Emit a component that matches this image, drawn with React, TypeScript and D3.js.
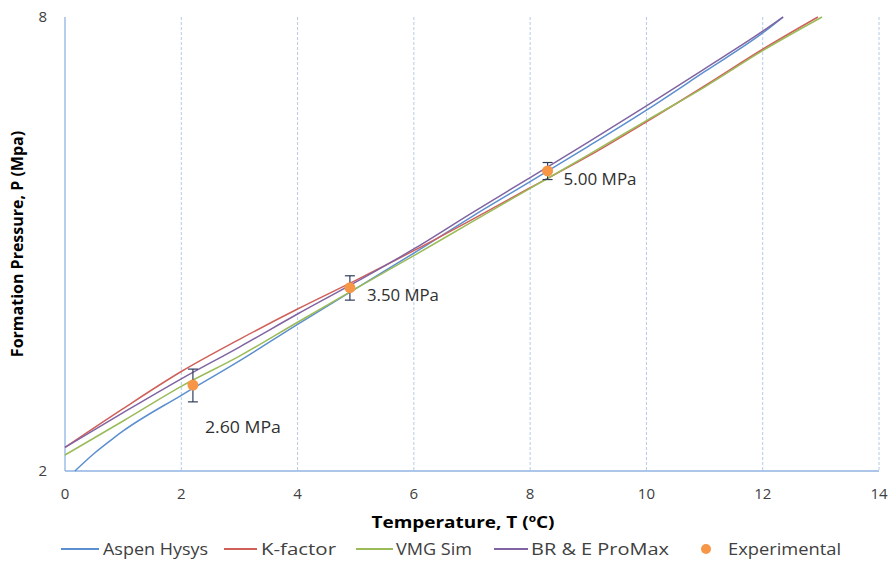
import { useMemo } from 'react';
import * as d3 from "d3";

// series (T in °C, P in MPa)
const aspenT = [0.17, 0.5, 0.83, 1, 2, 3, 4, 5, 6, 7, 8, 9, 10, 11, 12, 12.35];
const aspenP = [2.0, 2.11, 2.21, 2.26, 2.52, 2.80, 3.13, 3.49, 3.89, 4.35, 4.84, 5.39, 6.02, 6.77, 7.62, 8.0];

const kFactorT = [0, 1, 2, 3, 4, 5, 6, 7, 8, 9, 10, 11, 12, 12.95];
const kFactorP = [2.15, 2.42, 2.71, 2.99, 3.28, 3.58, 3.92, 4.31, 4.75, 5.23, 5.81, 6.48, 7.25, 8.0];

const vmgT = [0, 1, 2, 3, 4, 5, 6, 7, 8, 9, 10, 11, 12, 13.02];
const vmgP = [2.10, 2.33, 2.59, 2.84, 3.15, 3.49, 3.86, 4.28, 4.74, 5.25, 5.83, 6.46, 7.22, 8.0];

const proMaxT = [0, 1, 2, 3, 4, 5, 6, 7, 8, 9, 10, 11, 12, 12.35];
const proMaxP = [2.15, 2.39, 2.65, 2.92, 3.23, 3.56, 3.94, 4.40, 4.90, 5.46, 6.10, 6.83, 7.66, 8.0];

const expT = [2.2, 4.9, 8.3];
const expP = [2.6, 3.5, 5.0];
const expErr = 0.13;
const expLabels = ["2.60 MPa", "3.50 MPa", "5.00 MPa"];

const xTicks = [0, 2, 4, 6, 8, 10, 12, 14];
const yTicks = [2, 8];

const seriesNames = ["Aspen Hysys", "K-factor", "VMG Sim", "BR & E ProMax"];
const seriesColors = ["#5B8FCF", "#D0605A", "#9BBB59", "#8064A2"];
const expColor = "#F79646";

// label placement relative to the point (px) and widths of the stretched text
const labelOffsets = [[12, 48], [17, 13], [16, 14]];
const labelWidths = [76, 72, 73];

const W = 888, H = 564;
const m = { left: 65, right: 9, top: 17, bottom: 93 };
const font = "'Open Sans', sans-serif";
const textCol = "#404040";

export default function App() {
     const xScale = d3.scaleLinear().domain([0, 14]).range([m.left, W - m.right]);
     const yScale = d3.scaleLog().domain([2, 8]).range([H - m.bottom, m.top]);

     const lines = useMemo(() => {
          const gen = d3.line<[number, number]>()
               .x(d => xScale(d[0]))
               .y(d => yScale(d[1]))
               .curve(d3.curveMonotoneX);
          const sets: [number[], number[]][] = [[aspenT, aspenP], [kFactorT, kFactorP], [vmgT, vmgP], [proMaxT, proMaxP]];
          return sets.map(([t, p]) => gen(t.map((v, i) => [v, p[i]] as [number, number])) || "");
     }, []);

     const y0 = H - m.bottom;
     // legend layout
     const legLineX = [61, 224, 356, 494];
     const legLineW = [38, 33, 37, 34];
     const legTextX = [103, 261, 396, 531];
     const legTextW = [105, 75, 76, 138];
     const legY = 549;

     return (
          <div style={{ position: "fixed", left: 0, top: 0, width: W, height: H, background: "#fff" }}>
               <svg width={W} height={H} style={{ display: "block" }}>
                    {/* vertical dashed grid */}
                    {xTicks.filter(t => t > 0).map(t => (
                         <line key={t} x1={xScale(t)} x2={xScale(t)} y1={m.top} y2={y0}
                              stroke="#B4CBE8" strokeWidth={1} strokeDasharray="3,2" />
                    ))}
                    {/* axes */}
                    <line x1={m.left} x2={m.left} y1={m.top} y2={y0} stroke="#8FB3E0" strokeWidth={1.3} />
                    <line x1={m.left} x2={W - m.right} y1={y0} y2={y0} stroke="#8FB3E0" strokeWidth={1.3} />

                    {/* tick labels */}
                    {xTicks.map(t => (
                         <text key={t} x={xScale(t)} y={y0 + 28} textAnchor="middle" fontFamily={font}
                              fontSize={15} fill={textCol}>{t}</text>
                    ))}
                    {yTicks.map(t => (
                         <text key={t} x={m.left - 18} y={yScale(t) + 5} textAnchor="end" fontFamily={font}
                              fontSize={15} fill={textCol}>{t}</text>
                    ))}

                    {/* series lines */}
                    {lines.map((d, i) => (
                         <path key={i} d={d} fill="none" stroke={seriesColors[i]} strokeWidth={1.5} />
                    ))}

                    {/* experimental points with error bars */}
                    {expT.map((t, i) => {
                         const cx = xScale(t);
                         const yt = yScale(expP[i] + expErr);
                         const yb = yScale(expP[i] - expErr);
                         return (
                              <g key={i}>
                                   <line x1={cx} x2={cx} y1={yt} y2={yb} stroke="#2F3D5C" strokeWidth={1.2} />
                                   <line x1={cx - 5} x2={cx + 5} y1={yt} y2={yt} stroke="#2F3D5C" strokeWidth={1.2} />
                                   <line x1={cx - 5} x2={cx + 5} y1={yb} y2={yb} stroke="#2F3D5C" strokeWidth={1.2} />
                                   <circle cx={cx} cy={yScale(expP[i])} r={5.5} fill={expColor} />
                                   <text x={cx + labelOffsets[i][0]} y={yScale(expP[i]) + labelOffsets[i][1]}
                                        fontFamily={font} fontSize={16} fill="#303030"
                                        textLength={labelWidths[i]} lengthAdjust="spacingAndGlyphs">{expLabels[i]}</text>
                              </g>
                         );
                    })}

                    {/* axis titles */}
                    <text x={463} y={528} textAnchor="middle" fontFamily={font} fontSize={16}
                         fontWeight="bold" fill="#000" textLength={183} lengthAdjust="spacingAndGlyphs">
                         Temperature, T (<tspan fontSize={10} dy={-6}>o</tspan><tspan dy={6}>C)</tspan>
                    </text>
                    <text transform={`translate(23,${(m.top + y0) / 2}) rotate(-90)`} textAnchor="middle"
                         fontFamily={font} fontSize={16} fontWeight="bold" fill="#000">
                         Formation Pressure, P (Mpa)
                    </text>

                    {/* legend */}
                    {seriesNames.map((n, i) => (
                         <g key={n}>
                              <line x1={legLineX[i]} x2={legLineX[i] + legLineW[i]} y1={legY} y2={legY}
                                   stroke={seriesColors[i]} strokeWidth={2} />
                              <text x={legTextX[i]} y={legY + 6} fontFamily={font} fontSize={16} fill={textCol}
                                   textLength={legTextW[i]} lengthAdjust="spacingAndGlyphs">{n}</text>
                         </g>
                    ))}
                    <circle cx={706} cy={legY} r={5} fill={expColor} />
                    <text x={728} y={legY + 6} fontFamily={font} fontSize={16} fill={textCol}
                         textLength={113} lengthAdjust="spacingAndGlyphs">Experimental</text>
               </svg>
          </div>
     );
}
